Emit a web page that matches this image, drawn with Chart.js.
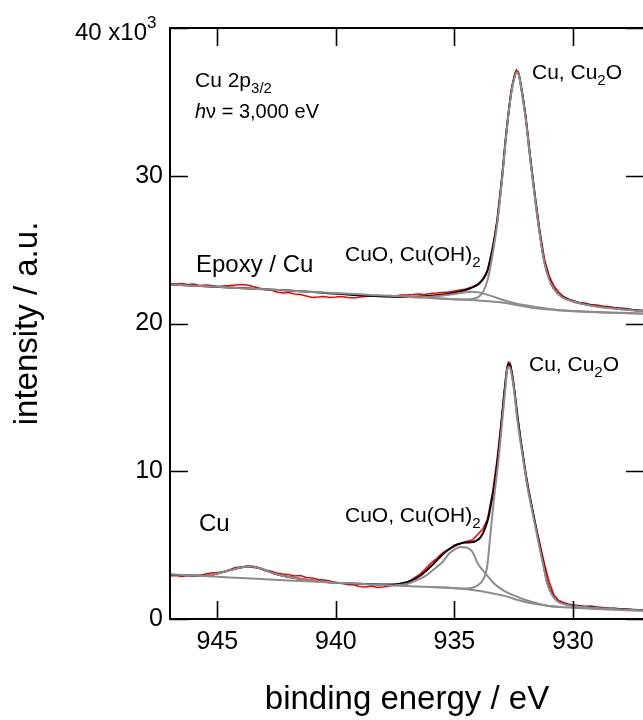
<!DOCTYPE html>
<html lang="en">

<head>
   <meta charset="UTF-8">
   <title>Cu 2p3/2 HAXPES</title>
   <script src="https://cdn.jsdelivr.net/npm/chart.js@4.4.1/dist/chart.umd.min.js"></script>
   <style>
      html, body { margin: 0; padding: 0; background: #fff; overflow: hidden; }
      .chart-container { position: relative; width: 660px; height: 720px; }
   </style>
</head>

<body>
   <div class="chart-container">
      <canvas id="myChart"></canvas>
   </div>

   <script>
      // binding energy (eV) / intensity (counts)
      const xTicks = [945, 940, 935, 930];
      const yTicks = [0, 10000, 20000, 30000, 40000];

      // ---- Epoxy / Cu (upper spectrum)
      const topBgE = [947, 946, 945, 944, 943, 942, 941, 940, 939, 938, 937, 936, 935, 934.5, 934, 933.5, 933, 932.6, 932.2, 931.8, 931.4, 931, 930.5, 930, 929, 928, 927, 926.5];
      const topBg = [22640, 22560, 22480, 22390, 22310, 22230, 22140, 22060, 21980, 21890, 21810, 21730, 21640, 21600, 21560, 21500, 21420, 21320, 21200, 21090, 21010, 20940, 20880, 20830, 20760, 20710, 20660, 20640];

      const topOxE = [937, 936.5, 936, 935.5, 935, 934.6, 934.3, 934, 933.6, 933.2, 932.8, 932.4, 932, 931.5, 931, 930.5, 930, 929, 928, 927, 926.5];
      const topOx = [21800, 21780, 21810, 21890, 22000, 22100, 22150, 22110, 21940, 21730, 21520, 21350, 21230, 21100, 20990, 20900, 20850, 20770, 20720, 20670, 20650];

      const topMainE = [936, 935, 934.5, 934.2, 934, 933.8, 933.6, 933.4, 933.2, 933, 932.8, 932.6, 932.45, 932.38, 932.3, 932.15, 932, 931.8, 931.6, 931.4, 931.2, 931, 930.8, 930.5, 930, 929.5, 929, 928.5, 928, 927.5, 927, 926.5];
      const topMain = [21730, 21640, 21630, 21680, 21790, 22100, 22940, 24570, 26670, 29580, 32960, 35630, 36750, 37020, 36920, 35630, 33970, 31130, 28490, 26060, 24090, 22980, 22330, 21830, 21490, 21290, 21150, 21050, 20970, 20890, 20830, 20780];

      const topEnvE = [947, 942, 937, 936.5, 936, 935.5, 935, 934.6, 934.3, 934, 933.8, 933.6, 933.4, 933.2, 933, 932.8, 932.6, 932.45, 932.38, 932.3, 932.15, 932, 931.8, 931.6, 931.4, 931.2, 931, 930.8, 930.5, 930, 929.5, 929, 928.5, 928, 927.5, 927, 926.5];
      const topEnv = [22640, 22230, 21800, 21820, 21870, 21960, 22080, 22230, 22400, 22640, 22980, 23590, 24970, 26870, 29710, 33030, 35670, 36780, 37040, 36950, 35670, 34040, 31200, 28560, 26120, 24160, 23050, 22350, 21850, 21510, 21310, 21170, 21070, 20990, 20910, 20850, 20800];

      const topRawE = [947, 946.75, 946.5, 946.25, 946, 945.75, 945.5, 945.25, 945, 944.75, 944.5, 944.25, 944, 943.75, 943.5, 943.25, 943, 942.75, 942.5, 942.25,
         942, 941.75, 941.5, 941.25, 941, 940.75, 940.5, 940.25, 940, 939.75, 939.5, 939.25, 939, 938.75, 938.5, 938.25, 938, 937.75, 937.5, 937.25,
         937, 936.75, 936.5, 936.25, 936, 935.75, 935.5, 935.25, 935, 934.75, 934.5, 934.25, 934, 933.8, 933.6, 933.4, 933.2, 933, 932.8, 932.6,
         932.45, 932.38, 932.3, 932.15, 932, 931.8, 931.6, 931.4, 931.2, 931, 930.8, 930.6, 930.4, 930.2, 930, 929.75, 929.5, 929.25, 929, 928.75,
         928.5, 928.25, 928, 927.75, 927.5, 927.25, 927, 926.75, 926.5];
      const topRaw = [22710, 22670, 22710, 22640, 22670, 22570, 22610, 22570, 22500, 22540, 22570, 22610, 22640, 22610, 22500, 22400, 22300, 22270, 22130, 22060,
         22100, 22000, 21960, 21860, 21760, 21790, 21830, 21760, 21790, 21830, 21760, 21730, 21790, 21830, 21860, 21890, 21860, 21890, 21860, 21930,
         21930, 21960, 22000, 21960, 22030, 22060, 22100, 22130, 22200, 22270, 22330, 22470, 22670, 23010, 23620, 25040, 26940, 29850, 33160, 35800,
         36950, 37160, 37020, 35800, 34180, 31340, 28700, 26330, 24360, 23210, 22540, 22130, 21830, 21660, 21560, 21420, 21390, 21290, 21250, 21180,
         21150, 21080, 21050, 21010, 20950, 20910, 20880, 20850, 20810];

      // ---- Cu (lower spectrum)
      const botBgE = [947, 946, 945, 944, 943, 942, 941, 940, 939, 938, 937, 936, 935, 934.5, 934, 933.5, 933, 932.7, 932.4, 932, 931.5, 931, 930.5, 930, 929, 928, 927, 926.5];
      const botBg = [3010, 2940, 2860, 2770, 2690, 2610, 2530, 2450, 2380, 2300, 2230, 2160, 2080, 2010, 1910, 1770, 1610, 1480, 1320, 1150, 990, 880, 810, 760, 680, 610, 560, 530];

      const botSatE = [946, 945.5, 945.2, 945, 944.6, 944.2, 943.9, 943.6, 943.3, 943, 942.6, 942.2, 941.8, 941.4, 941, 940.5, 940];
      const botSat = [2940, 2930, 3000, 3080, 3250, 3420, 3520, 3550, 3490, 3320, 3080, 2910, 2790, 2690, 2610, 2520, 2450];

      const botOxE = [937.5, 937, 936.6, 936.2, 935.9, 935.5, 935.2, 935, 934.75, 934.5, 934.25, 934, 933.7, 933.34, 933, 932.7, 932.35, 932, 931.5, 931, 930.5];
      const botOx = [2290, 2370, 2610, 2940, 3320, 3860, 4470, 4700, 4870, 4840, 4570, 3720, 3110, 2420, 2000, 1730, 1510, 1290, 1050, 880, 810];

      const botMainE = [936, 935, 934.5, 934.2, 934, 933.8, 933.62, 933.5, 933.4, 933.34, 933.13, 932.99, 932.85, 932.78, 932.72, 932.65, 932.56, 932.45, 932.35, 932.14,
         931.93, 931.65, 931.37, 931.2, 931.09, 930.9, 930.66, 930.3, 929.96, 929.5, 929, 928.5, 928, 927.5, 927, 926.5];
      const botMain = [2160, 2100, 2060, 2130, 2300, 2640, 3520, 5410, 7040, 7990, 10900, 13270, 15630, 16790, 17060, 16990, 16310, 15030, 13540, 11240,
         9070, 6770, 4570, 3250, 2440, 1690, 1220, 980, 880, 810, 740, 690, 640, 610, 580, 560];

      const botEnvE = [947, 946, 945.5, 945.2, 945, 944.6, 944.2, 943.9, 943.6, 943.3, 943, 942.6, 942.2, 941.8, 941.4, 941, 940.5, 940, 939, 938.5,
         938, 937.5, 937.2, 936.8, 936.4, 936, 935.6, 935.3, 935, 934.75, 934.5, 934.3, 934.1, 933.9, 933.7, 933.55, 933.45, 933.34, 933.13, 932.99,
         932.85, 932.78, 932.72, 932.65, 932.56, 932.45, 932.35, 932.14, 931.93, 931.65, 931.37, 931.2, 931.09, 930.9, 930.66, 930.3, 929.96, 929.5, 929, 928.5,
         928, 927.5, 927, 926.5];
      const botEnv = [3010, 2940, 2930, 3000, 3080, 3250, 3420, 3520, 3550, 3490, 3320, 3080, 2910, 2790, 2690, 2610, 2520, 2450, 2380, 2350,
         2330, 2350, 2420, 2610, 2980, 3550, 4200, 4640, 4940, 5110, 5180, 5190, 5280, 5520, 6160, 6970, 7850, 8730, 11440, 13690,
         15950, 16920, 17260, 17190, 16510, 15230, 13810, 11440, 9200, 6940, 4700, 3380, 2520, 1740, 1240, 1000, 900, 830, 760, 705,
         655, 620, 590, 570];

      const botRawE = [947, 946.75, 946.5, 946.25, 946, 945.75, 945.5, 945.25, 945, 944.75, 944.5, 944.25, 944, 943.75, 943.5, 943.25, 943, 942.75, 942.5, 942.25,
         942, 941.75, 941.5, 941.25, 941, 940.75, 940.5, 940.25, 940, 939.75, 939.5, 939.25, 939, 938.75, 938.5, 938.25, 938, 937.75, 937.5, 937.25,
         937, 936.75, 936.5, 936.25, 936, 935.75, 935.5, 935.25, 935, 934.75, 934.5, 934.25, 934, 933.8, 933.6, 933.4, 933.2, 933, 932.9, 932.8,
         932.72, 932.65, 932.55, 932.4, 932.2, 932, 931.8, 931.6, 931.4, 931.2, 931, 930.8, 930.6, 930.4, 930.2, 930, 929.75, 929.5, 929.25, 929,
         928.75, 928.5, 928.25, 928, 927.75, 927.5, 927.25, 927, 926.75, 926.5];
      const botRaw = [2910, 2940, 2880, 2980, 2910, 2940, 3050, 3110, 3150, 3180, 3320, 3490, 3520, 3590, 3490, 3450, 3280, 3250, 3110, 3050,
         3010, 2910, 2940, 2810, 2770, 2670, 2640, 2570, 2470, 2440, 2330, 2300, 2200, 2170, 2230, 2130, 2170, 2230, 2300, 2400,
         2470, 2710, 2980, 3350, 3760, 4090, 4470, 4700, 5010, 5110, 5250, 5350, 5750, 6090, 6770, 8460, 10760, 13740, 15360, 16780,
         17390, 17330, 16510, 14620, 12050, 9950, 8190, 6500, 5140, 3720, 2500, 1620, 1250, 1120, 1020, 950, 910, 850, 880, 810,
         780, 710, 740, 680, 680, 640, 610, 640, 580, 580];

      const FONT = '"Liberation Sans", Arial, Helvetica, sans-serif';
      const GRAY = 'rgb(140, 140, 140)';

      function pts(xs, ys) {
         return xs.map((x, i) => ({ x: x, y: ys[i] }));
      }

      function fitLine(xs, ys, color, order) {
         return {
            data: pts(xs, ys),
            borderColor: color,
            borderWidth: 2,
            pointRadius: 0,
            fill: false,
            cubicInterpolationMode: 'monotone',
            order: order
         };
      }

      function rawLine(xs, ys) {
         return {
            data: pts(xs, ys),
            borderColor: 'rgb(255, 0, 0)',
            borderWidth: 1.6,
            pointRadius: 0,
            fill: false,
            tension: 0,
            order: 3
         };
      }

      // text helper: parts = [{t, sub, sup, it}]
      function drawRich(ctx, x, y, parts, size) {
         parts.forEach(p => {
            const s = (p.sub || p.sup) ? Math.round(size * 0.7) : size;
            ctx.font = (p.it ? 'italic ' : '') + s + 'px ' + FONT;
            let dy = 0;
            if (p.sub) dy = size * 0.3;
            if (p.sup) dy = -size * 0.48;
            ctx.fillText(p.t, x, y + dy);
            x += ctx.measureText(p.t).width;
         });
      }

      const frame = {
         id: 'frame',
         afterDraw(chart) {
            const { ctx, chartArea: a, scales: { x, y } } = chart;
            ctx.save();
            ctx.strokeStyle = '#000';
            ctx.lineWidth = 2;
            ctx.strokeRect(a.left, a.top, a.right - a.left, a.bottom - a.top);
            ctx.lineWidth = 1.6;
            ctx.beginPath();
            x.ticks.forEach(t => {
               const px = Math.round(x.getPixelForValue(t.value)) + 0.5;
               ctx.moveTo(px, a.bottom); ctx.lineTo(px, a.bottom - 18);
               ctx.moveTo(px, a.top); ctx.lineTo(px, a.top + 18);
            });
            y.ticks.forEach(t => {
               const py = Math.round(y.getPixelForValue(t.value)) + 0.5;
               ctx.moveTo(a.left, py); ctx.lineTo(a.left + 18, py);
               ctx.moveTo(a.right, py); ctx.lineTo(a.right - 18, py);
            });
            ctx.stroke();

            ctx.fillStyle = '#000';
            ctx.textAlign = 'left';
            ctx.textBaseline = 'alphabetic';
            drawRich(ctx, 75, 40, [{ t: '40 x10' }, { t: '3', sup: true }], 24);
            drawRich(ctx, 195, 87, [{ t: 'Cu 2p' }, { t: '3/2', sub: true }], 21);
            drawRich(ctx, 195, 118, [{ t: 'h', it: true }, { t: 'ν = 3,000 eV' }], 20);
            drawRich(ctx, 532, 79, [{ t: 'Cu, Cu' }, { t: '2', sub: true }, { t: 'O' }], 21);
            drawRich(ctx, 345, 261, [{ t: 'CuO, Cu(OH)' }, { t: '2', sub: true }], 21);
            drawRich(ctx, 196, 272, [{ t: 'Epoxy / Cu' }], 24);
            drawRich(ctx, 529, 371, [{ t: 'Cu, Cu' }, { t: '2', sub: true }, { t: 'O' }], 21);
            drawRich(ctx, 345, 522, [{ t: 'CuO, Cu(OH)' }, { t: '2', sub: true }], 21);
            drawRich(ctx, 199, 531, [{ t: 'Cu' }], 24);
            ctx.restore();
         }
      };

      const config = {
         type: 'line',
         data: {
            datasets: [
               fitLine(topBgE, topBg, GRAY, 1),
               fitLine(topOxE, topOx, GRAY, 1),
               fitLine(topMainE, topMain, GRAY, 1),
               fitLine(topEnvE, topEnv, '#000', 2),
               rawLine(topRawE, topRaw),
               fitLine(botBgE, botBg, GRAY, 1),
               fitLine(botSatE, botSat, GRAY, 1),
               fitLine(botOxE, botOx, GRAY, 1),
               fitLine(botMainE, botMain, GRAY, 1),
               fitLine(botEnvE, botEnv, '#000', 2),
               rawLine(botRawE, botRaw)
            ]
         },
         options: {
            responsive: true,
            maintainAspectRatio: false,
            animation: false,
            layout: { padding: { top: 28, right: 16, left: 0, bottom: 0 } },
            plugins: { legend: { display: false }, tooltip: { enabled: false } },
            scales: {
               x: {
                  type: 'linear',
                  reverse: true,
                  min: 927,
                  max: 947,
                  afterBuildTicks: s => { s.ticks = xTicks.map(v => ({ value: v })); },
                  afterFit: s => { s.height = 101; },
                  grid: { display: false, drawTicks: false },
                  border: { display: false },
                  ticks: {
                     color: '#000', padding: 8, maxRotation: 0,
                     font: { family: FONT, size: 25 },
                     callback: v => String(v)
                  },
                  title: {
                     display: true, text: 'binding energy / eV', color: '#000',
                     font: { family: FONT, size: 33 }, padding: { top: 0, bottom: 0 }
                  }
               },
               y: {
                  min: 0,
                  max: 40000,
                  afterBuildTicks: s => { s.ticks = yTicks.map(v => ({ value: v })); },
                  afterFit: s => { s.width = 170; },
                  grid: { display: false, drawTicks: false },
                  border: { display: false },
                  ticks: {
                     color: '#000', padding: 7,
                     font: { family: FONT, size: 25 },
                     callback: v => v === 40000 ? '' : String(v / 1000)
                  },
                  title: {
                     display: true, text: 'intensity / a.u.', color: '#000',
                     font: { family: FONT, size: 33 }, padding: { top: 8, bottom: 0 }
                  }
               }
            }
         },
         plugins: [frame]
      };

      const ctx = document.getElementById('myChart').getContext('2d');
      const chart = new Chart(ctx, config);
   </script>
</body>

</html>
